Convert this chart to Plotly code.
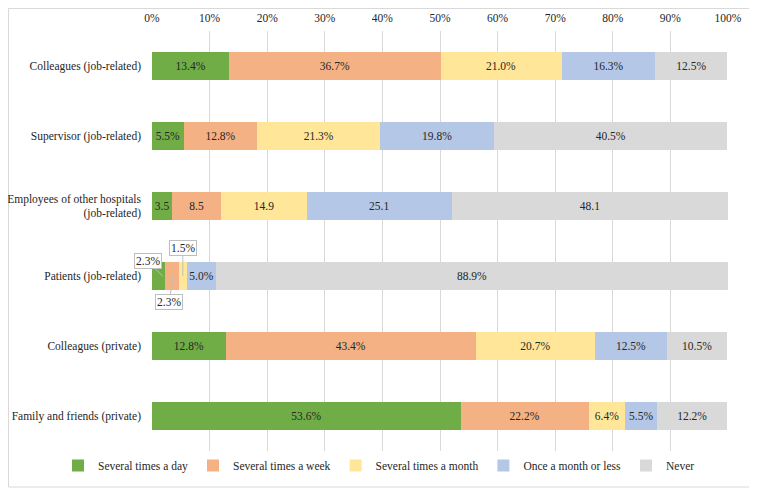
import plotly.graph_objects as go

categories = [
    "Colleagues (job-related)",
    "Supervisor (job-related)",
    "Employees of other hospitals<br>(job-related)",
    "Patients (job-related)",
    "Colleagues (private)",
    "Family and friends (private)",
]
series_names = ["Several times a day", "Several times a week", "Several times a month",
                "Once a month or less", "Never"]
several_day = [13.4, 5.5, 3.5, 2.3, 12.8, 53.6]
several_week = [36.7, 12.8, 8.5, 2.3, 43.4, 22.2]
several_month = [21.0, 21.3, 14.9, 1.5, 20.7, 6.4]
once_month = [16.3, 19.8, 25.1, 5.0, 12.5, 5.5]
never = [12.5, 40.5, 48.1, 88.9, 10.5, 12.2]
tick_vals = [0, 10, 20, 30, 40, 50, 60, 70, 80, 90, 100]
tick_text = ["0%", "10%", "20%", "30%", "40%", "50%", "60%", "70%", "80%", "90%", "100%"]

colors = ["#70AD47", "#F4B183", "#FFE699", "#B4C7E7", "#D9D9D9"]
all_series = [several_day, several_week, several_month, once_month, never]

FONT = "Liberation Serif, Times New Roman, DejaVu Serif, serif"
FS = 11.5
TXT = "#262626"


def label(v, cat_idx, ser_idx):
    if cat_idx == 3 and ser_idx < 3:
        return ""  # shown as callouts
    if cat_idx == 2:
        return f"{v:.1f}"
    return f"{v:.1f}%"


fig = go.Figure()
for si, (name, vals, col) in enumerate(zip(series_names, all_series, colors)):
    fig.add_trace(go.Bar(
        y=categories, x=vals, name=name, orientation="h",
        marker=dict(color=col, line=dict(width=0)),
        text=[label(v, ci, si) for ci, v in enumerate(vals)],
        textposition="inside", insidetextanchor="middle", textangle=0,
        constraintext="none",
        textfont=dict(family=FONT, size=FS, color=TXT),
        hoverinfo="skip",
    ))

# Callouts for the small Patients segments
pat = categories[3]
callouts = [
    (several_day[3] * 0.8, -15, -15),
    (several_day[3] + several_week[3] * 0.6, -4, 26),
    (several_day[3] + several_week[3] + several_month[3] * 0.5, 0, -28),
]
callout_vals = [several_day[3], several_week[3], several_month[3]]
for (xv, ax, ay), v in zip(callouts, callout_vals):
    fig.add_annotation(
        x=xv, y=pat, xref="x", yref="y", text=f"{v:.1f}%",
        showarrow=True, arrowhead=0, arrowwidth=1, arrowcolor="#BFBFBF",
        ax=ax, ay=ay, bgcolor="white", bordercolor="#BFBFBF", borderwidth=1,
        borderpad=1, font=dict(family=FONT, size=FS, color=TXT),
    )

# page has an 8px body margin -> lay out the figure in page coordinates minus 8
OFF = 8
W, H = 757 - OFF, 492 - OFF
L, R, T, B = 152 - OFF, 29, 31 - OFF, 41
pw, ph = W - L - R, H - T - B


def px_x(p):  # page pixel -> paper
    return (p - OFF - L) / pw


def px_y(p):
    return (H - B - (p - OFF)) / ph


fig.add_shape(type="rect", xref="paper", yref="paper",
              x0=px_x(OFF + 0.5), x1=px_x(753), y0=px_y(487), y1=px_y(OFF + 0.5),
              line=dict(color="#D9D9D9", width=1), fillcolor="rgba(0,0,0,0)", layer="below")

fig.update_layout(
    width=W, height=H, barmode="stack", bargap=0.6,
    margin=dict(l=L, r=R, t=T, b=B, pad=0, autoexpand=False),
    paper_bgcolor="white", plot_bgcolor="white",
    font=dict(family=FONT, size=FS, color=TXT),
    uniformtext=dict(mode="show", minsize=FS),
    xaxis=dict(side="top", range=[0, 100], tickmode="array", tickvals=tick_vals, ticktext=tick_text,
               showgrid=True, gridcolor="#D9D9D9", gridwidth=1, zeroline=False,
               showline=False, ticks="", ticklabelstandoff=6,
               tickfont=dict(family=FONT, size=FS, color=TXT),
               automargin=False, fixedrange=True),
    yaxis=dict(autorange="reversed", showgrid=False, showline=False, ticks="",
               ticklabelstandoff=10, automargin=False,
               tickfont=dict(family=FONT, size=FS, color=TXT)),
    legend=dict(orientation="h", x=px_x(58), xanchor="left", y=px_y(451), yanchor="top",
                font=dict(family=FONT, size=FS, color=TXT),
                itemwidth=30, traceorder="normal", bgcolor="rgba(0,0,0,0)"),
    showlegend=True,
)

fig.write_html("out.html")
